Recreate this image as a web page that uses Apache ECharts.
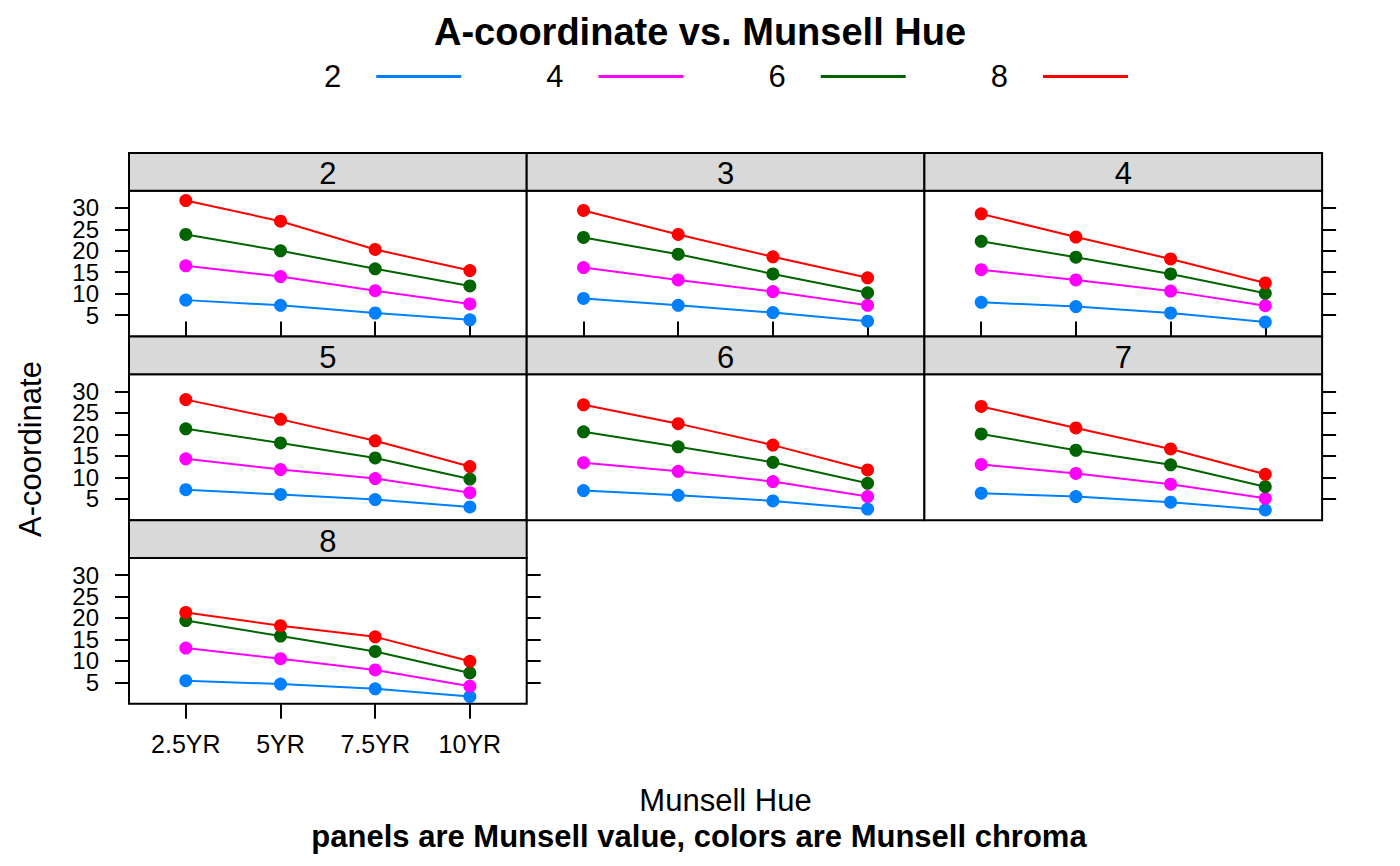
<!DOCTYPE html>
<html lang="en">
<head>
    <meta charset="UTF-8">
    <title>A-coordinate vs. Munsell Hue</title>
    <script src="https://cdn.jsdelivr.net/npm/echarts@6/dist/echarts.min.js"></script>
    <style>
        html, body { margin: 0; padding: 0; background: #fff; }
        #chart { width: 1400px; height: 866px; }
    </style>
</head>
<body>
    <div id="chart"></div>
    <script>
        // Munsell hue on the x axis, one panel per Munsell value, one line per chroma
        var hueLabels = ['2.5YR', '5YR', '7.5YR', '10YR'];
        var valuePanels = ['2', '3', '4', '5', '6', '7', '8'];
        var chromaNames = ['2', '4', '6', '8'];
        var yTicks = [5, 10, 15, 20, 25, 30];
        // y labels split over two axes so the tight labels are not thinned out
        var yLabelsA = [10, 20, 30];
        var yLabelsB = [5, 15, 25];

        // values per panel (value 2 .. 8), each row = the four hues
        var chroma2 = [
            [8.5, 7.3, 5.5, 3.9],
            [8.9, 7.3, 5.6, 3.6],
            [8.0, 7.0, 5.5, 3.4],
            [7.1, 6.0, 4.8, 3.1],
            [6.9, 5.8, 4.5, 2.6],
            [6.3, 5.5, 4.2, 2.4],
            [5.4, 4.6, 3.5, 1.7]
        ];
        var chroma4 = [
            [16.5, 14.0, 10.7, 7.6],
            [16.1, 13.2, 10.5, 7.3],
            [15.6, 13.2, 10.6, 7.2],
            [14.3, 11.8, 9.7, 6.4],
            [13.4, 11.4, 9.0, 5.5],
            [13.0, 10.9, 8.4, 5.1],
            [13.0, 10.5, 7.9, 4.1]
        ];
        var chroma6 = [
            [23.8, 20.0, 15.8, 11.8],
            [23.1, 19.2, 14.6, 10.2],
            [22.2, 18.5, 14.6, 10.1],
            [21.3, 18.0, 14.5, 9.6],
            [20.6, 17.1, 13.5, 8.6],
            [20.1, 16.3, 12.9, 7.8],
            [19.4, 15.8, 12.2, 7.2]
        ];
        var chroma8 = [
            [31.7, 26.9, 20.3, 15.4],
            [29.4, 23.8, 18.6, 13.7],
            [28.6, 23.2, 18.1, 12.5],
            [28.1, 23.5, 18.5, 12.5],
            [26.9, 22.5, 17.5, 11.7],
            [26.5, 21.5, 16.6, 10.7],
            [21.3, 18.2, 15.6, 9.9]
        ];

        var chromaData = [chroma2, chroma4, chroma6, chroma8];
        var chromaColors = ['#0080ff', '#ff00ff', '#006400', '#ff0000'];
        var font = '"Liberation Sans", Arial, sans-serif';

        // panel layout (lattice style, 3 columns, filled from the top)
        var colLeft = [129, 526.7, 924.4];
        var colW = 397.7;
        var rowTop = [153, 336.6, 520.2];
        var stripH = 37.7;
        var plotH = 145.9;

        var grids = [], xAxes = [], yAxes = [], series = [], graphics = [];
        var tickStyle = { color: '#000', width: 2 };

        function yAxis(k, position, ticks, labels) {
            return {
                type: 'value', gridIndex: k, min: 0, max: 34, position: position,
                axisLine: { show: false },
                splitLine: { show: false },
                axisTick: { show: ticks, length: 14, customValues: yTicks, lineStyle: tickStyle },
                axisLabel: {
                    show: !!labels, customValues: labels || yTicks, margin: 30,
                    showMinLabel: true, showMaxLabel: true, hideOverlap: false,
                    fontSize: 24, lineHeight: 18, fontFamily: font, color: '#000'
                }
            };
        }

        valuePanels.forEach(function (name, k) {
            var r = Math.floor(k / 3), c = k % 3;
            var lastInRow = (c === 2) || (k === valuePanels.length - 1);
            grids.push({
                left: colLeft[c], top: rowTop[r] + stripH,
                width: colW, height: plotH,
                show: true, borderColor: '#000', borderWidth: 2,
                backgroundColor: '#fff'
            });
            var bottomRow = (r === 2);
            xAxes.push({
                type: 'value', gridIndex: k, min: 0.4, max: 4.6,
                position: r === 0 ? 'top' : 'bottom',
                offset: r === 0 ? stripH : 0,
                axisLine: { show: false },
                splitLine: { show: false },
                axisTick: {
                    show: r === 0 || bottomRow, length: 15, inside: false,
                    customValues: [1, 2, 3, 4], lineStyle: tickStyle
                },
                axisLabel: {
                    show: bottomRow, customValues: [1, 2, 3, 4], margin: 28,
                    fontSize: 25, fontFamily: font, color: '#000',
                    formatter: function (v) { return hueLabels[Math.round(v) - 1]; }
                }
            });
            var yIdx = yAxes.length;
            if (c === 0) {
                yAxes.push(yAxis(k, 'left', true, yLabelsA));
                yAxes.push(yAxis(k, 'left', false, yLabelsB));
                if (lastInRow) yAxes.push(yAxis(k, 'right', true, null));
            } else {
                yAxes.push(yAxis(k, 'right', lastInRow, null));
            }

            chromaNames.forEach(function (cn, j) {
                series.push({
                    type: 'line', name: cn,
                    xAxisIndex: k, yAxisIndex: yIdx,
                    data: chromaData[j][k].map(function (v, i) { return [i + 1, v]; }),
                    symbol: 'circle', symbolSize: 13,
                    color: chromaColors[j],
                    lineStyle: { width: 2, color: chromaColors[j] },
                    itemStyle: { color: chromaColors[j] },
                    z: 2 + j
                });
            });

            // strip with the panel's Munsell value
            graphics.push({
                type: 'rect', z: 10,
                shape: { x: colLeft[c], y: rowTop[r], width: colW, height: stripH },
                style: { fill: '#d9d9d9', stroke: '#000', lineWidth: 2 }
            });
            graphics.push({
                type: 'text', z: 11,
                style: {
                    text: name, x: colLeft[c] + colW / 2, y: rowTop[r] + stripH / 2 + 2,
                    align: 'center', verticalAlign: 'middle',
                    font: '31px ' + font, fill: '#000'
                }
            });
        });

        graphics.push({
            type: 'text', x: 30, y: 449, rotation: Math.PI / 2,
            style: {
                text: 'A-coordinate', x: 0, y: 0, align: 'center', verticalAlign: 'middle',
                font: '31px ' + font, fill: '#000'
            }
        });
        graphics.push({
            type: 'text',
            style: {
                text: 'Munsell Hue', x: 725.5, y: 800, align: 'center', verticalAlign: 'middle',
                font: '31px ' + font, fill: '#000'
            }
        });
        graphics.push({
            type: 'text',
            style: {
                text: 'panels are Munsell value, colors are Munsell chroma', x: 699, y: 836,
                align: 'center', verticalAlign: 'middle',
                font: 'bold 31px ' + font, fill: '#000'
            }
        });

        var chart = echarts.init(document.getElementById('chart'), null, { renderer: 'svg' });
        chart.setOption({
            animation: false,
            backgroundColor: '#fff',
            title: {
                text: 'A-coordinate vs. Munsell Hue', left: 'center', top: 8,
                textStyle: { fontSize: 38, fontWeight: 'bold', fontFamily: font, color: '#000' }
            },
            legend: {
                data: chromaNames, left: 319, top: 56,
                icon: 'rect', itemWidth: 85, itemHeight: 3, itemGap: 85,
                align: 'right', selectedMode: false,
                textStyle: { fontSize: 31, fontFamily: font, color: '#000', padding: [3, 30, 0, 0] }
            },
            grid: grids,
            xAxis: xAxes,
            yAxis: yAxes,
            series: series,
            graphic: graphics
        });
    </script>
</body>
</html>
